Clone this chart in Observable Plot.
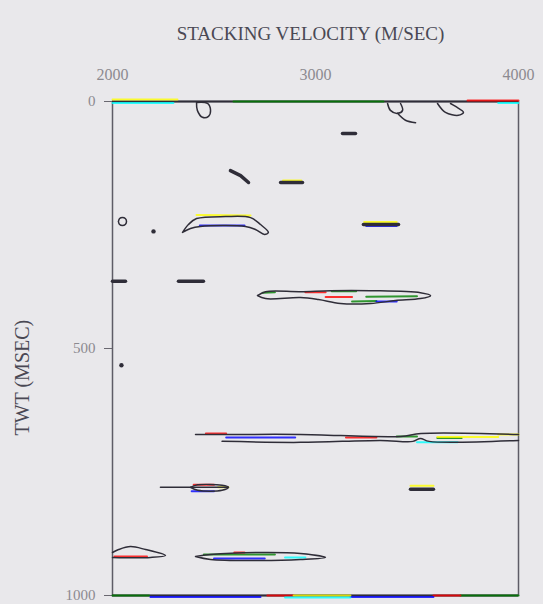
<!DOCTYPE html>
<html>
<head>
<meta charset="utf-8">
<script src="https://cdn.jsdelivr.net/npm/d3@7"></script>
<script src="https://cdn.jsdelivr.net/npm/@observablehq/plot@0.6"></script>
<style>
  html, body { margin: 0; padding: 0; background: #e9e8eb; }
  #chart { width: 543px; height: 604px; overflow: hidden; }
</style>
</head>
<body>
<div id="chart"></div>
<script>
// ---- axis ticks and labels ----
const xTicks = [2000, 3000, 4000];
const yTicks = [0, 500, 1000];
const titleText = "STACKING VELOCITY (M/SEC)";
const yLabelText = "TWT (MSEC)";

// ---- dark contour paths: [velocity m/s, twt ms] ----
const loopA = [[2414,2],[2418,18],[2443,32],[2473,30],[2483,18],[2468,4],[2414,2]];
const loopB = [[3355,4],[3369,18],[3404,24],[3429,18],[3419,4]];
const tailB = [[3404,24],[3443,38],[3493,43]];
const loopC = [[3601,4],[3640,22],[3704,28],[3729,22],[3690,10],[3665,4]];
const circleG = [[2029,243],[2035,237],[2049,235],[2063,237],[2069,243],[2063,249],[2049,251],[2035,249],[2029,243]];
const archI = [[2345,265],[2374,249],[2414,237],[2557,233],[2680,235],[2729,249],[2768,265],[2749,269],[2704,259],[2655,253],[2433,253],[2384,257],[2345,265]];
const bandM = [[2714,393],[2754,385],[2926,385],[3074,383],[3271,383],[3517,387],[3567,393],[3517,399],[3394,403],[3271,409],[3123,409],[3015,401],[2926,397],[2754,399],[2714,393]];
const bandOUpper = [[2409,674],[2581,674],[2926,674],[3419,678],[3520,672],[4000,674]];
const bandOLower = [[2540,688],[2926,690],[3320,686],[3480,688],[3517,682],[3560,688],[4000,686]];
const dashP = [[2236,781],[2571,781]];
const loopP = [[2384,781],[2420,776],[2540,777],[2571,781],[2540,787],[2420,787],[2384,781]];
const archR = [[2000,913],[2030,907],[2089,901],[2163,907],[2261,919],[2187,923],[2000,923]];
const bandS = [[2409,921],[2483,917],[2729,913],[2926,915],[3049,923],[2926,927],[2729,929],[2483,927],[2409,921]];

// ---- short thick dashes ----
const dashD = [[3133,65],[3197,65]];
const dashE = [[2581,140],[2631,150],[2670,164]];
const dashF = [[2828,164],[2936,164]];
const dashJ = [[3236,249],[3409,249]];
const dashK = [[2000,364],[2064,364]];
const dashL = [[2325,364],[2448,364]];
const dashQ = [[3468,785],[3581,785]];

// ---- isolated points ----
const dotPoints = [[2202,263],[2044,534]];

// ---- colour-separated accent traces ----
const greenTraces = [
  [[2596,0],[3335,0]],
  [[2000,1000],[2180,1000]], [[3714,1000],[4000,1000]],
  [[2740,387],[2800,386]], [[3080,384],[3200,384]], [[3180,405],[3300,404]], [[3250,395],[3500,394]],
  [[3400,678],[3500,678]], [[3600,681],[3720,681]],
  [[2450,917],[2800,917]]
];
const redTraces = [
  [[3749,-2],[4000,-2]],
  [[2763,1000],[2892,1000]], [[3581,1000],[3714,1000]],
  [[2950,386],[3050,386]], [[3050,396],[3180,396]],
  [[2460,672],[2560,672]], [[3150,680],[3300,680]],
  [[2400,776],[2500,776]],
  [[2010,921],[2170,921]], [[2600,913],[2650,913]]
];
const blueTraces = [
  [[2187,1003],[2729,1003]], [[3172,1003],[3581,1003]],
  [[2430,251],[2650,251]], [[3250,252],[3400,252]],
  [[3300,405],[3400,405]],
  [[2560,680],[2900,680]],
  [[2390,789],[2500,789]],
  [[2500,925],[2750,925]]
];
const yellowTraces = [
  [[2000,-4],[2320,-4]],
  [[2892,1000],[3172,1000]],
  [[2414,230],[2680,231]], [[2840,160],[2930,160]], [[3240,244],[3400,244]],
  [[3600,679],[3900,679]], [[3900,674],[4000,674]],
  [[2520,781],[2571,781]], [[3468,778],[3581,778]]
];
const cyanTraces = [
  [[2000,3],[2300,3]], [[3900,3],[4000,3]],
  [[2850,1004],[3172,1004]],
  [[3500,690],[3700,690]],
  [[2850,923],[2950,923]]
];

const darkPaths = [loopA, loopB, tailB, loopC, circleG, archI, bandM, bandOUpper, bandOLower, dashP, loopP, archR, bandS];
const thickPaths = [dashD, dashE, dashF, dashJ, dashK, dashL, dashQ];
const toneGroups = [
  ["green", greenTraces], ["red", redTraces], ["blue", blueTraces], ["yellow", yellowTraces], ["cyan", cyanTraces]
];

// ---- build tables ----
function toRows(paths, tone, prefix) {
  const rows = [];
  paths.forEach((p, i) => p.forEach(([v, t]) => rows.push({v, t, id: prefix + i, tone})));
  return rows;
}
const darkRows = toRows(darkPaths, "dark", "d");
const thickRows = toRows(thickPaths, "dark", "k");
const toneRows = toneGroups.flatMap(([tone, paths]) => toRows(paths, tone, tone));
const dotRows = dotPoints.map(([v, t]) => ({v, t}));

const tones = ["dark", "green", "red", "blue", "yellow", "cyan"];
const palette = ["#2f2d38", "#6cc45c", "#de7590", "#52559f", "#e4d860", "#98d4e6"];

const chart = Plot.plot({
  width: 543,
  height: 604,
  marginTop: 101,
  marginBottom: 9,
  marginLeft: 112,
  marginRight: 25,
  style: { background: "transparent", fontFamily: "'Liberation Serif', serif", overflow: "visible" },
  x: { domain: [2000, 4000], axis: null },
  y: { domain: [0, 1000], reverse: true, axis: null },
  color: { domain: tones, range: palette },
  marks: [
    Plot.axisX({ anchor: "top", ticks: xTicks, tickSize: 0, tickPadding: 22, fontSize: 16, fill: "#8c8a90", label: null, tickFormat: d => String(d) }),
    Plot.axisY({ ticks: yTicks, tickSize: 8, tickPadding: 9, fontSize: 15, fill: "#8c8a90", stroke: "#6a6870", label: null, tickFormat: d => String(d) }),
    Plot.frame({ stroke: "#5e5c66", strokeWidth: 1.5 }),
    Plot.ruleY([0, 1000], { stroke: "#2f2d38", strokeWidth: 2 }),
    Plot.line(toneRows, { x: "v", y: "t", z: "id", stroke: "tone", strokeWidth: 2, strokeOpacity: 0.8 }),
    Plot.line(darkRows, { x: "v", y: "t", z: "id", stroke: "tone", strokeWidth: 1.5, strokeLinejoin: "round", curve: "catmull-rom" }),
    Plot.line(thickRows, { x: "v", y: "t", z: "id", stroke: "tone", strokeWidth: 3.5, strokeLinecap: "round" }),
    Plot.dot(dotRows, { x: "v", y: "t", r: 2.2, fill: "#2f2d38" }),
    Plot.text([titleText], { frameAnchor: "top", dx: -5, dy: -68, lineAnchor: "middle", fontSize: 19, fill: "#4a4854", fontFamily: "'Liberation Serif', serif" }),
    Plot.text([yLabelText], { frameAnchor: "bottom-left", textAnchor: "start", dx: -84, dy: -160, rotate: -90, fontSize: 20, fill: "#4a4854", fontFamily: "'Liberation Serif', serif" })
  ]
});
document.getElementById("chart").appendChild(chart);
</script>
</body>
</html>
